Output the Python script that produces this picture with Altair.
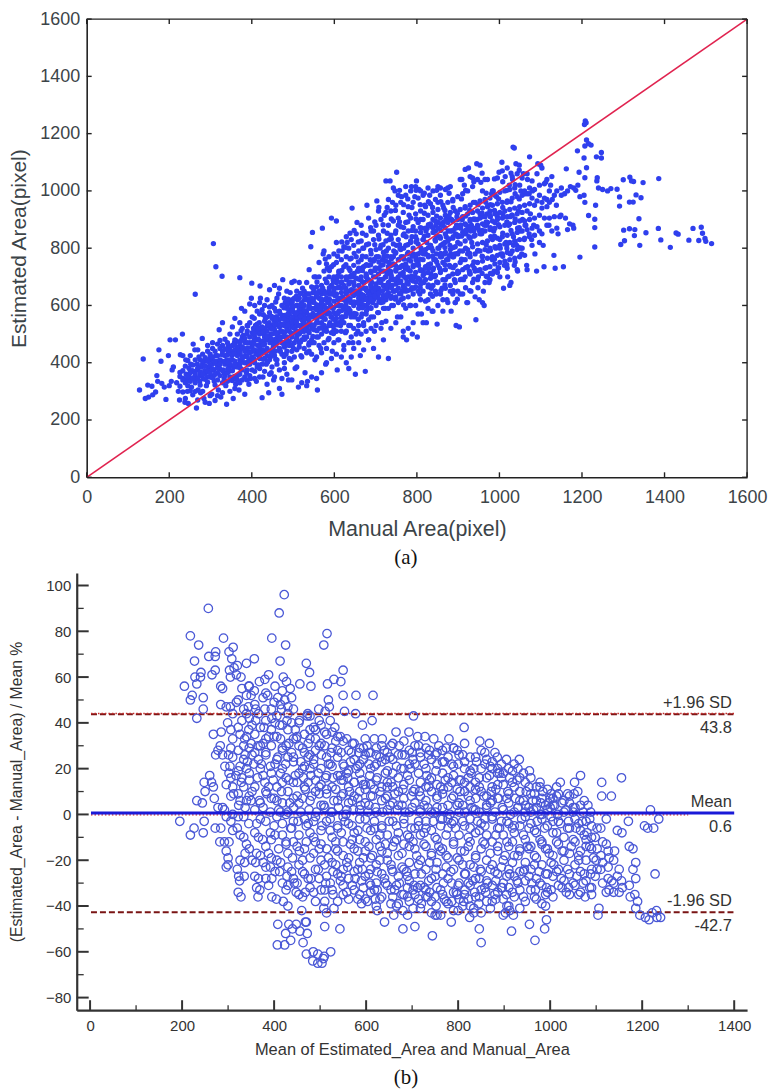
import altair as alt
import pandas as pd

a_outliers = [(1208,1244),(1210,1238),(1206,1232),(1211,1178),(1216,1165),(1207,1157),(1222,1160),(1033,1153),(1036,1150),(1073,1119),(1189,1140),(1205,1115),(1247,1134),(1235,1119),(1247,1115),(1162,1077),(1193,1065),(1211,1081),(1207,1046),(1237,1046),(1236,1035),(1300,1039),(1316,1048),(1325,1033),(1320,1035),(1348,1029),(1386,1043),(1291,979),(1291,947),(1315,961),(1324,961),(1331,986),(1343,976),(1338,903),(1301,863),(1315,868),(1328,865),(1327,844),(1355,854),(1385,869),(1391,829),(1294,813),(1303,826),(1340,810),(1414,803),(1428,853),(1433,849),(1459,828),(1469,869),(1489,873),(1492,852),(1483,827),(1498,834),(1500,824),(1514,816),(1195,769),(1231,804),(1231,872),(1231,901),(1216,914),(307,816),(313,735),(328,702),(263,639),(371,697),(400,678),(420,668),(1240,1010),(1250,1005),(1262,1000),(1270,1008),(1285,1006),(1233,950),(1205,985),(1195,980),(1207,960),(1180,1010),(1172,1015),(1185,1002),(1190,1020),(1150,985),(1178,880),(1180,870),(1165,865),(1160,905),(1149,915)]
a_low = [(128,305),(137,413),(142,275),(150,280),(148,322),(158,318),(160,288),(167,298),(172,335),(170,355),(175,445),(180,405),(182,328),(188,315),(192,272),(198,425),(200,320),(205,335),(207,375),(210,385),(202,480),(215,480),(218,330),(222,300),(225,270),(227,428),(232,500),(234,345),(238,262),(240,410),(241,360),(244,300),(246,258),(248,380),(250,345),(252,395),(254,315),(258,465),(259,370),(262,445),(264,345),(266,242),(268,395),(270,305),(272,420),(274,355),(276,295),(278,385),(280,485),(282,345),(284,275),(286,405),(288,365),(290,320),(293,440),(295,385),(297,258),(299,350),(301,410),(303,290),(305,470),(307,375),(309,335),(311,268),(313,425),(315,395),(317,365),(319,305),(321,515),(323,450),(325,280),(327,405),(329,540),(331,375),(333,345),(335,425),(337,320),(339,255),(341,395),(343,460),(345,370),(347,300),(349,440),(351,340),(353,410),(355,275),(357,385),(359,555),(361,325),(363,475),(365,355),(367,440),(369,305),(371,410),(373,380),(375,590),(377,340),(379,495),(381,450),(383,290),(385,425),(387,365),(389,530),(391,395),(393,325),(395,470),(397,345),(399,625),(401,440),(403,405),(405,500),(407,370),(409,530),(411,335),(413,580),(415,460),(417,425),(419,380),(421,625),(423,510),(425,278),(427,350),(429,470),(431,440),(433,555),(435,395),(437,325),(439,490),(441,295),(443,595),(445,420),(447,365),(449,530),(451,470),(453,340),(455,670),(457,440),(459,560),(461,395),(463,500),(465,640),(467,310),(469,440),(471,535),(473,290),(475,690),(477,470),(479,380),(481,610),(483,430),(485,515),(487,560),(489,340),(491,475),(493,645),(495,410)]
a_mid1 = [(497,525),(499,590),(501,450),(503,685),(505,380),(507,545),(509,500),(511,620),(513,315),(515,470),(517,570),(519,425),(521,530),(523,660),(525,600),(527,490),(529,365),(531,640),(533,555),(535,335),(537,510),(539,440),(541,590),(543,805),(545,470),(547,855),(549,620),(551,530),(553,410),(555,700),(557,565),(559,305),(561,490),(563,650),(565,600),(567,450),(569,540),(571,870),(573,780),(575,515),(577,620),(579,395),(581,570),(583,730),(585,480),(587,650),(589,540),(591,600),(593,905),(595,440),(597,690),(599,515),(601,635),(603,570),(605,895),(607,375),(609,480),(611,720),(613,600),(615,530),(617,660),(619,790),(621,560),(623,445),(625,620),(627,505),(629,690),(631,820),(633,580),(635,380),(637,650),(639,530),(641,610),(643,940),(645,470),(647,700),(649,560),(651,360),(653,640),(655,890),(657,510),(659,730),(661,600),(663,425),(665,660),(667,570),(669,800),(671,530),(673,620),(675,370),(677,700),(679,950),(681,590),(683,480),(685,650),(687,760),(689,560),(691,680),(693,610),(695,860),(697,510),(699,730),(701,640),(703,965),(705,575),(707,420),(709,690),(711,800),(713,620),(715,540),(717,760),(719,670),(721,915),(723,590),(725,1035),(727,720),(729,640),(731,415),(733,830),(735,1035),(737,690),(739,600),(741,960),(743,770),(745,650),(747,1000),(749,720),(751,1065),(753,560),(755,880),(757,680),(759,800),(761,620),(763,980),(765,740),(767,510),(769,850),(771,660),(773,1015),(775,480),(777,780),(779,700),(781,915),(783,600),(785,820),(787,1015),(789,500),(791,740),(793,660),(795,980),(797,860),(799,1035),(801,490),(803,780),(805,1005),(807,640),(809,900),(811,570),(813,720),(815,830)]
a_mid2 = [(817,680),(819,950),(821,780),(823,540),(825,870),(827,620),(829,730),(831,985),(833,810),(835,660),(837,580),(839,900),(841,760),(843,700),(845,860),(847,640),(849,535),(851,960),(853,800),(855,730),(857,1010),(859,880),(861,660),(863,580),(865,940),(867,780),(869,690),(871,840),(873,620),(875,1010),(877,900),(879,740),(881,650),(883,580),(885,860),(887,970),(889,770),(891,690),(893,610),(895,530),(897,910),(899,820),(901,715),(903,525),(905,640),(907,880),(909,1040),(911,760),(913,690),(915,1020),(917,940),(919,850),(921,610),(923,780),(925,1080),(927,720),(929,900),(931,650),(933,820),(935,1045),(937,960),(939,730),(941,870),(943,550),(945,1095),(947,790),(949,700),(951,620),(953,920),(955,1030),(957,850),(959,770),(961,650),(963,600),(965,1040),(967,960),(969,880),(971,700),(973,790),(975,680),(977,930),(979,840),(981,990),(983,760),(985,1000),(987,720),(989,890),(991,800),(993,980),(995,910),(997,730),(999,1065),(1001,830),(1003,780),(1006,1100),(1008,920),(1010,660),(1012,740),(1014,1050),(1016,820),(1018,960),(1020,700),(1022,880),(1024,1020),(1026,780),(1028,680),(1030,915),(1032,1040),(1034,840),(1036,740),(1038,990),(1040,1095),(1042,810),(1044,720),(1046,930),(1048,1090),(1050,860),(1052,1000),(1054,780),(1056,900),(1058,1060),(1060,830),(1062,990),(1064,880),(1066,740),(1068,1040),(1072,990),(1075,920),(1078,830),(1080,1000),(1083,880),(1086,780),(1090,720),(1093,1095),(1097,860),(1100,1090),(1103,960),(1106,810),(1108,735),(1112,1030),(1115,970),(1120,880),(1124,1020),(1128,970),(1132,775),(1135,730),(1138,950),(1142,850),(1146,910),(1150,1010),(1155,735),(1158,990),(1165,1000),(1170,885)]
a_core = [(240,340),(248,355),(256,372),(262,352),(268,375),(274,335),(280,392),(286,372),(292,350),(298,415),(304,395),(308,355),(316,405),(322,380),(328,428),(334,362),(340,410),(346,385),(352,425),(356,350),(362,440),(368,395),(374,455),(378,420),(384,470),(390,440),(394,410),(400,455),(406,480),(410,430),(416,505),(422,470),(426,445),(432,520),(436,480),(442,540),(446,500),(452,455),(456,530),(460,485),(466,550),(470,510),(474,565),(478,530),(484,475),(488,545),(492,585),(496,500),(500,560),(504,530),(508,600),(512,555),(516,505),(520,590),(524,545),(528,620),(532,580),(536,530),(540,610),(544,560),(548,645),(552,590),(556,630),(560,540),(564,575),(568,620),(572,660),(576,575),(580,520),(584,610),(588,640),(592,560),(596,590),(600,660),(604,540),(608,620),(612,580),(616,680),(620,630),(624,590),(628,660),(632,620),(636,700),(640,570),(644,640),(648,670),(652,610),(656,720),(660,650),(664,690),(668,620),(672,660),(676,740),(680,690),(684,630),(688,720),(692,660),(696,760),(700,700),(704,650),(708,730),(712,680),(716,620),(720,770),(724,700),(728,660),(732,750),(736,720),(740,670),(744,790),(748,740),(752,690),(756,760),(760,710),(764,650),(768,800),(772,730),(776,680),(780,760),(784,720),(788,840),(792,780),(796,700),(800,830),(804,740),(808,690),(812,870),(816,780),(820,730),(824,820),(828,770),(832,880),(836,800),(840,730),(844,830),(848,780),(852,890),(856,840),(860,770),(864,890),(868,820),(872,760),(876,860),(880,810),(884,900),(888,840),(892,780),(896,880),(900,840),(904,790),(910,900),(914,850),(920,880),(926,840),(932,880),(938,860),(946,900),(952,860),(958,910),(964,880),(970,920),(978,910),(986,860),(994,920),(1002,800),(1010,910),(1018,800),(1026,910),(1034,810),(1044,870),(1052,800),(1062,880),(1072,850),(344,450),(358,470),(372,430),(388,500),(404,520),(418,540),(430,500),(444,470),(458,580),(472,490),(486,600),(498,620),(510,575),(522,510),(534,640),(546,520),(558,600),(570,560),(582,680),(594,530),(606,690),(618,550),(630,580),(642,700),(654,650),(666,730),(678,600),(690,640),(702,770),(714,720),(726,790),(738,740),(750,810),(762,770),(774,840),(786,690),(798,760),(810,800),(822,860),(834,710),(846,880),(858,810),(870,900),(882,780),(894,850),(906,870),(918,800),(930,860),(942,900)]
# extra columns read from the dense band: (manual area, [estimated areas])
a_columns = [(226,[352,318,366]),(233,[372,340,298,425]),(239,[388,330,275]),(245,[352,408,320]),(251,[366,302,425,335]),(257,[345,392,288]),(263,[410,362,330,300]),(269,[345,382,445,270]),(275,[368,410,322]),(281,[405,360,300,430]),(287,[342,388,418,262]),(293,[372,405,332,460]),(299,[392,365,285,430]),(305,[348,420,378,450]),(311,[405,360,440,322]),(317,[382,425,340,465,285]),(323,[355,410,395,478]),(329,[372,440,330,460,295]),(335,[395,355,448,482,405]),(341,[428,365,470,335]),(347,[410,350,445,395,500]),(353,[372,460,430,338,525]),(359,[405,445,352,480,310]),(365,[425,385,500,455,340]),(371,[470,395,440,360,540,330]),(377,[415,455,375,520,490]),(383,[440,400,485,350,580]),(389,[470,420,510,375,340]),(395,[435,490,395,540,355,605]),(401,[470,505,420,375,560]),(407,[445,520,400,490,345,600]),(413,[480,430,535,385,510]),(419,[455,500,415,570,350,610]),(425,[525,475,435,395,585]),(431,[490,545,415,465,370,600]),(437,[510,450,560,425,620]),(443,[525,490,410,575,360,655]),(449,[500,555,445,470,385,600]),(455,[515,480,590,425,545,350]),(461,[535,470,560,505,410,625]),(467,[490,580,450,525,375,660]),(473,[555,510,470,600,430,345]),(479,[505,565,455,535,625,400]),(485,[545,590,490,440,525,650,360]),(491,[570,510,535,460,610,415]),(497,[555,600,490,525,440,680,340]),(503,[520,575,625,470,545,420]),(509,[560,490,600,530,445,650,385]),(515,[585,530,625,500,455,680]),(521,[550,610,575,480,520,420,330]),(527,[600,540,650,510,450,565]),(533,[575,620,525,490,680,435,320]),(539,[565,640,600,505,540,470,725]),(545,[590,530,625,480,665,430,350]),(551,[610,560,650,515,700,470]),(557,[585,635,540,665,490,420,345]),(563,[625,565,595,520,700,460,750]),(569,[640,580,610,500,670,435,365]),(575,[600,555,650,530,720,470,790]),(581,[625,590,680,510,450,745,400]),(587,[575,650,610,530,700,485,770]),(593,[640,595,560,670,505,735,415]),(599,[615,655,575,700,530,470,780]),(605,[640,600,680,555,510,750,430,820]),(611,[625,665,580,715,540,480,790]),(617,[645,600,700,560,510,760,420]),(623,[670,620,590,735,540,805,460]),(629,[640,610,700,570,770,510,400,840]),(635,[675,625,730,590,530,800,470]),(641,[655,705,610,765,560,490,830,420]),(647,[635,680,600,740,520,810,450]),(653,[695,650,610,770,570,500,850]),(659,[670,625,720,590,790,530,470]),(665,[640,700,610,760,560,825,500,880]),(671,[680,635,735,600,800,540,445]),(677,[660,710,625,770,570,845,510]),(683,[690,640,740,610,815,550,480,905]),(689,[665,715,630,780,590,860,520]),(695,[700,650,755,620,830,560,450]),(701,[675,730,640,795,600,880,530]),(707,[710,660,770,625,845,575,930]),(713,[690,740,650,810,610,900,520]),(719,[720,670,785,635,860,590,480]),(725,[700,755,660,825,620,925,545]),(731,[735,680,800,645,880,590,970]),(737,[710,770,665,845,625,930,520]),(743,[745,690,815,650,895,600,1010]),(749,[725,785,675,860,630,950,540]),(755,[760,700,830,660,905,610,985]),(761,[735,795,685,875,640,960,560]),(767,[770,715,845,670,925,625,490]),(773,[745,810,695,890,650,985,590]),(779,[785,725,860,675,945,630,520]),(785,[755,825,700,905,655,1000,600]),(791,[800,735,875,685,960,640,540]),(797,[770,840,715,920,665,1015,600]),(803,[815,750,890,695,975,650,570]),(809,[785,855,725,930,675,1000,620]),(815,[830,760,900,705,985,650,540]),(821,[795,870,735,945,690,615]),(827,[845,775,915,715,1010,665,590]),(833,[810,885,745,955,695,640]),(839,[855,790,925,725,1000,670,580]),(845,[825,895,760,970,705,650]),(851,[870,800,935,740,1015,680,600]),(857,[835,905,770,985,715,640]),(863,[880,815,950,750,690,620]),(869,[850,915,785,1005,725,660]),(875,[890,825,960,760,700,610]),(881,[860,925,795,1015,735,670]),(887,[895,835,965,770,710,640]),(893,[870,930,805,740,680,610]),(899,[900,845,980,780,720,650]),(905,[880,935,815,1040,750,690]),(911,[910,855,990,790,725,640]),(917,[885,945,825,760,700,1075]),(923,[920,865,1000,795,735,610]),(929,[895,950,835,770,710,1050]),(935,[925,870,1015,805,740,680]),(941,[900,960,845,780,720,630]),(947,[930,880,1040,815,750,690]),(953,[905,965,850,790,725,1090]),(959,[940,885,1000,820,755,610]),(965,[910,970,860,795,730,680]),(971,[945,890,1040,825,765,700]),(977,[915,975,865,800,735,690]),(983,[950,895,1000,830,770,710]),(989,[920,985,870,805,745]),(995,[955,900,1045,835,775,715]),(1001,[925,995,875,810,750,700]),(1007,[960,905,1070,840,780]),(1013,[930,1000,880,815,755]),(1019,[965,910,1080,845,785,730]),(1025,[935,1005,885,820,760,670]),(1031,[975,915,1050,850,790]),(1037,[940,1010,890,825,765]),(1043,[980,920,1060,855,795,725]),(1049,[945,1020,895,830,770]),(1055,[985,925,1045,860,800]),(1061,[950,895,1000,835,775]),(1067,[990,930,1060,865,725]),(1073,[955,1010,900,840]),(1079,[975,1035,870,810]),(1085,[950,905,1005,845]),(1091,[965,1060,875]),(1097,[985,915,1020,820]),(1103,[940,1080,850]),(1109,[975,905,1025]),(1115,[880,945,1040]),(1121,[960,1000,905]),(1127,[860,1050]),(1133,[910,985]),(1139,[1000,870])]
a_columns2 = [(342,[402,442,378]),(358,[432,392,462]),(374,[402,478,512]),(390,[452,402,528]),(406,[412,465,502,555]),(416,[442,522,392,482]),(428,[462,508,412,568]),(438,[532,442,492,402]),(448,[482,518,562,432]),(458,[502,462,552,412,612]),(468,[532,482,572,442]),(478,[492,552,592,462,422]),(488,[512,572,462,622,532]),(498,[542,502,582,462,612]),(508,[512,572,482,632,542]),(518,[562,602,512,472,642]),(528,[522,582,482,632,552]),(538,[592,552,622,512,462]),(548,[572,612,532,662,492]),(558,[552,602,642,512,682]),(568,[592,562,652,522,622]),(578,[642,592,552,692,512,762]),(588,[622,572,662,532,722]),(598,[642,592,682,552,742,502]),(608,[602,662,572,702,532,772]),(618,[622,682,582,722,542,822]),(628,[652,602,742,562,802]),(638,[682,622,722,582,852,762]),(648,[712,652,612,782,572,862]),(658,[642,692,612,752,552,822]),(668,[682,632,772,592,852,722]),(678,[702,652,742,622,812,582]),(688,[672,622,792,742,872,592]),(698,[722,662,812,632,762,892]),(708,[682,752,642,832,612,942]),(718,[742,692,812,652,882,612]),(728,[712,772,672,852,632,942]),(738,[762,702,832,662,902,632]),(748,[782,692,852,652,932,622]),(758,[732,812,682,892,642,1002]),(768,[762,702,872,662,952,602]),(778,[812,732,892,682,972,652]),(788,[772,862,702,942,662]),(798,[822,742,902,682,1002]),(808,[762,872,722,952,662]),(818,[842,792,922,712,992]),(828,[802,882,742,962,672]),(838,[872,772,942,702,632]),(848,[842,912,752,1002,682]),(858,[782,862,722,962,652]),(868,[872,802,932,742,672]),(878,[832,912,772,992,702]),(888,[862,802,942,732,652]),(898,[872,922,782,712,622]),(908,[842,972,762,692,902]),(918,[912,862,1002,732,662]),(928,[872,932,782,712,652]),(938,[902,842,1032,752,692]),(948,[872,952,792,722,662]),(958,[922,862,1062,772,712]),(968,[892,992,812,732,702]),(978,[872,952,792,712]),(988,[932,842,1042,762]),(998,[882,972,802,732]),(1008,[942,852,1032,772]),(1018,[892,1002,812,742]),(1028,[962,862,1062,782]),(1038,[902,1022,822,752]),(1048,[972,872,1072,802])]

b_top = [(257,90),(422,96),(411,88),(218,78),(395,77),(290,77),(515,79),(508,74),(425,74),(236,74),(311,73),(302,71),(273,71),(272,69),(258,69),(227,67),(413,67),(357,68),(470,66),(340,66),(308,68),(320,65),(313,64),(272,63),(303,63),(241,62),(265,61),(477,62),(550,63),(420,60),(240,60),(228,60),(318,61),(305,60),(328,60),(530,59),(545,58),(205,56),(232,57),(284,56),(350,52),(427,58),(380,59),(388,61),(368,58),(516,57),(480,56),(456,57),(435,55),(402,56),(345,56),(330,55),(288,55),(550,52),(578,52),(615,52),(518,50),(218,50),(222,52),(246,51),(246,46),(284,48),(408,51),(400,49),(386,52),(423,50),(438,51),(340,52),(357,54),(296,47),(305,47),(318,49),(344,47),(360,46),(380,46),(416,46),(430,47),(442,46),(497,46),(511,45),(553,45),(577,44),(232,42),(299,40),(472,43),(473,44),(520,47),(703,43),(613,41),(813,38),(592,39),(268,35),(285,36),(283,30),(278,28),(273,26),(288,26),(293,21),(304,21),(301,26),(302,18),(317,17),(329,14),(340,20),(337,26)]
b_upper = [(330,41),(345,37),(360,41),(378,38),(395,42),(412,39),(428,41),(446,37),(455,41),(478,37),(498,41),(532,38),(544,34),(558,33),(336,33),(350,31),(365,30),(382,27),(400,34),(418,28),(432,31),(448,33),(462,29),(490,33),(510,30),(524,27),(568,27),(584,27),(602,30),(618,33),(635,33),(665,36),(693,36),(712,34),(728,34),(747,33),(758,30),(780,33),(790,29),(847,32),(868,31),(880,27),(885,25),(905,24),(933,24),(955,19),(322,28),(342,23),(356,22),(372,22),(392,21),(408,25),(425,22),(442,25),(458,23),(474,25),(486,22),(503,26),(518,22),(538,25),(552,21),(566,23),(578,20),(594,24),(606,22),(622,26),(640,28),(652,25),(672,30),(684,26),(700,27),(718,25),(736,26),(754,22),(770,23),(800,22),(814,20),(826,25),(840,23),(858,22),(874,20),(894,22),(918,19),(928,15),(1022,14),(1053,14),(1066,17),(1112,14),(1155,16),(1060,10),(1112,8),(1133,8),(978,12),(948,10),(984,10),(1000,7),(1014,8),(1042,8),(1052,9),(1010,4),(1082,4),(912,16),(890,18),(868,17),(846,16),(828,18),(806,15),(790,17),(772,15),(752,19),(732,17),(714,18),(696,20),(676,20),(658,18),(642,18),(624,16),(608,17),(590,15),(574,14),(560,16),(544,17),(528,16),(512,16),(496,18),(480,17),(464,16),(446,17),(432,15),(414,18),(398,15),(380,14),(364,16),(346,15),(330,16)]
b_centre = [(260,17),(264,14),(248,14),(268,12),(250,10),(232,6),(244,5),(270,7),(278,3),(288,3),(296,13),(312,9),(323,4),(337,3),(350,6),(368,6),(384,9),(400,7),(416,10),(434,5),(450,8),(468,11),(482,8),(498,9),(514,11),(530,6),(546,8),(564,10),(582,7),(598,11),(614,8),(630,10),(646,12),(662,9),(680,11),(698,8),(716,10),(736,12),(754,8),(768,11),(786,7),(804,10),(822,8),(838,11),(856,8),(872,10),(888,7),(908,10),(924,7),(942,6),(962,6),(980,5),(996,5),(292,2),(310,0),(334,-1),(358,2),(376,3),(392,1),(410,2),(426,0),(442,3),(458,1),(476,2),(492,1),(508,4),(524,1),(540,3),(556,0),(572,2),(588,4),(604,1),(620,3),(636,1),(652,4),(668,2),(684,1),(700,3),(718,1),(734,3),(750,1),(766,3),(782,0),(798,4),(814,1),(830,3),(846,1),(862,3),(880,1),(896,3),(914,0),(930,3),(946,1),(964,2),(982,0),(1000,3),(1016,0),(1034,2),(1050,3),(1072,1),(1088,1),(1218,2),(195,-3),(218,-9),(226,-6),(246,-8),(248,-3),(272,-6),(284,-6),(296,-1),(320,-6),(345,-4),(362,-4),(382,-3),(400,-5),(418,-4),(436,-6),(452,-3),(470,-5),(486,-3),(504,-5),(522,-2),(538,-6),(554,-3),(570,-5),(586,-2),(602,-6),(618,-3),(634,-6),(650,-3),(666,-5),(682,-2),(698,-6),(714,-3),(730,-6),(746,-3),(762,-5),(778,-2),(794,-6),(810,-3),(826,-6),(842,-3),(858,-5),(874,-2),(890,-6),(906,-3),(922,-5),(938,-2),(954,-6),(972,-3),(988,-6),(1006,-3),(1022,-4),(1040,-3),(1056,-6),(1070,-3),(1090,-5),(1080,-8),(1122,-2),(1170,-3),(1205,-5),(1212,-6),(1225,-6),(1236,-2),(1146,-7),(1156,-8)]
b_lower = [(282,-12),(292,-12),(302,-12),(296,-16),(300,-19),(300,-22),(296,-23),(320,-24),(336,-21),(335,-27),(323,-27),(325,-29),(322,-34),(328,-36),(362,-32),(369,-33),(365,-36),(395,-28),(382,-23),(392,-23),(360,-21),(337,-17),(362,-17),(375,-11),(392,-8),(410,-15),(426,-13),(440,-19),(455,-16),(470,-12),(486,-17),(502,-13),(518,-19),(534,-15),(550,-18),(566,-13),(582,-16),(598,-12),(614,-18),(630,-14),(646,-17),(662,-12),(678,-17),(694,-14),(710,-18),(726,-13),(742,-17),(758,-14),(774,-18),(790,-12),(806,-16),(822,-14),(838,-18),(854,-12),(870,-17),(886,-14),(902,-18),(918,-12),(934,-16),(950,-14),(966,-18),(982,-13),(998,-17),(1014,-12),(1030,-16),(1046,-14),(1062,-18),(1078,-14),(1094,-19),(1110,-18),(1128,-19),(1140,-16),(1172,-14),(1180,-15),(412,-25),(428,-27),(444,-30),(462,-25),(480,-28),(496,-24),(512,-30),(528,-25),(544,-29),(560,-23),(576,-28),(592,-24),(608,-30),(624,-25),(640,-28),(656,-24),(672,-30),(688,-25),(704,-31),(720,-26),(736,-29),(752,-24),(768,-30),(784,-25),(800,-31),(816,-26),(832,-29),(848,-24),(864,-30),(880,-25),(896,-32),(912,-26),(928,-29),(944,-24),(960,-30),(976,-25),(992,-32),(1008,-22),(1024,-28),(1040,-32),(1058,-27),(1072,-30),(1088,-26),(1100,-20),(1126,-28),(1134,-29),(1146,-27),(1155,-29),(1172,-31),(1186,-21),(1180,-24),(1186,-28),(1228,-26),(1128,-33),(1138,-34),(1157,-32),(1066,-34),(1076,-36),(1090,-35),(1035,-34),(990,-35),(968,-33),(905,-35),(880,-35),(860,-34),(836,-34),(815,-33),(796,-34),(770,-37),(750,-36),(730,-36),(712,-32),(690,-32),(662,-33),(624,-33),(610,-31),(590,-29),(550,-35),(528,-35),(510,-38),(468,-34),(448,-34),(430,-31),(395,-36),(405,-37),(420,-38),(430,-40),(508,-41),(530,-41),(590,-39),(603,-38),(620,-37),(654,-39),(690,-36),(702,-41),(720,-39),(734,-36),(742,-43),(752,-40),(762,-44),(786,-38),(800,-42),(812,-38),(825,-45),(834,-41),(845,-39),(903,-43),(912,-42),(920,-44),(624,-42),(660,-44),(680,-42),(1106,-41),(1104,-44),(1174,-36),(1184,-35),(1186,-41),(1195,-44),(1207,-45),(1215,-46),(1222,-43),(1231,-42),(1240,-45),(1232,-45),(1190,-38)]
b_bottom = [(460,-42),(408,-48),(432,-48),(448,-48),(468,-47),(470,-47),(425,-52),(440,-50),(456,-51),(472,-52),(510,-49),(543,-50),(640,-47),(680,-50),(706,-49),(744,-53),(785,-47),(846,-50),(850,-56),(916,-51),(955,-48),(988,-50),(992,-46),(967,-55),(407,-57),(423,-57),(436,-55),(463,-56),(470,-61),(485,-60),(495,-61),(509,-62),(523,-60),(484,-64),(504,-65),(507,-63),(495,-65)]
# extra columns read from the dense cloud: (mean area, [percent differences])
b_columns = [(310,[33,-7,12,44,25]),(322,[38,-1,19,50,9]),(334,[12,46,30,-10,24]),(346,[29,8,42,-15,18,56]),(358,[35,12,-8,27,48,-27]),(370,[20,-2,38,5,-18,30]),(382,[41,26,10,-14,33,-28,53]),(394,[7,30,18,-11,37,-19,46]),(406,[34,12,-1,24,-20,43,6]),(418,[39,20,5,-9,29,-30,14,54]),(430,[25,10,-17,37,1,-23,44]),(442,[33,14,-3,23,-12,7,-28]),(454,[18,30,5,-9,40,-22,-35]),(466,[27,12,-2,35,-15,-26,21]),(478,[33,20,6,-8,-19,26,-32,43]),(490,[15,28,-1,10,-12,37,-24,-38]),(502,[31,4,20,-7,-20,13,-33,39]),(514,[25,9,35,-3,-15,-27,17,-43]),(526,[12,29,1,-10,21,-21,-33,36]),(538,[28,17,-5,6,-16,-26,34,-38]),(550,[22,32,9,-1,-12,15,-31,-24]),(562,[28,12,-4,19,-19,5,-28,-37]),(574,[24,8,31,-8,14,-15,-25,-33]),(586,[18,2,29,-11,10,-21,-35,22]),(598,[26,13,-2,33,5,-16,-27,-37]),(610,[20,8,27,-7,-19,13,-24,-34]),(622,[29,15,1,-11,22,-22,-30,-40]),(634,[23,6,-5,12,-16,30,-26,-36]),(646,[19,27,8,-9,-20,2,-31,14]),(658,[24,12,-3,31,-14,-25,-36,5]),(670,[16,26,4,-8,-18,-27,10,-39]),(682,[32,20,7,-4,-13,-24,13,-35]),(694,[15,28,1,-10,-21,-29,22,-38]),(706,[22,11,-6,30,-15,5,-26,-35]),(718,[27,14,2,-9,-20,-31,8,-41]),(730,[20,6,-3,29,-14,-24,12,-33]),(742,[24,10,-7,16,-18,-28,1,-38]),(754,[27,13,3,-11,-21,-32,7,-44]),(766,[18,28,-2,9,-15,-26,-35,23]),(778,[25,12,-6,4,-19,-28,16,-39]),(790,[21,8,-3,29,-13,-24,-34,-42]),(802,[15,26,1,-9,-20,-30,5,-37]),(814,[23,10,-5,31,-16,-26,-35,14]),(826,[19,6,-2,-12,-22,-31,12,-40]),(838,[25,14,2,-8,-19,-28,-36,7]),(850,[20,10,-4,28,-15,-25,-33,-43]),(862,[16,4,-9,24,-20,-29,-38,8]),(874,[23,12,-1,-12,-22,-31,6,-38]),(886,[18,7,-6,-16,-26,-34,13,20]),(898,[13,2,-9,-20,-30,-37,18,-44]),(910,[20,9,-4,-14,-24,-32,5,-40]),(922,[12,1,-8,-18,-27,-36,22]),(934,[16,6,-5,-15,-25,-33,10,-41]),(946,[14,-1,-11,-21,-29,4,-38]),(958,[9,-4,-14,-24,-33,16,1]),(970,[12,3,-8,-19,-28,-37,6]),(982,[7,-2,-12,-22,-31,-39]),(994,[11,-5,-15,-26,-34,2]),(1006,[4,-8,-18,-27,-36,7]),(1018,[9,-3,-13,-24,-31]),(1030,[1,-10,-20,-29,6]),(1042,[5,-6,-17,-26,-35]),(1054,[-2,-12,-22,-31,3]),(1066,[-7,-16,-25,4]),(1078,[-3,-20,-29,-11]),(1090,[-10,-24,-15,-32]),(1102,[-15,-24,-6]),(1114,[-12,-21,-30]),(1126,[-16,-23]),(1138,[-20,-30]),(1150,[-24,-34])]
b_columns2 = [(306,[29,-3,8,37,16]),(326,[21,35,-9,6,-20]),(340,[6,34,-13,44]),(352,[26,-20,39,10]),(366,[24,-10,44,-28]),(376,[17,-21,31,51]),(388,[12,34,-17,-31]),(402,[22,-9,40,-25]),(414,[33,1,-21,48]),(426,[16,-12,30,-33]),(438,[27,-6,-25,40]),(450,[14,-14,34,-30]),(462,[20,-20,7,-36]),(474,[31,-4,-28,14]),(486,[24,-10,-34,38]),(498,[12,-15,30,-28]),(510,[36,3,-22,-33]),(522,[22,-7,-30,41]),(534,[11,-12,32,-22]),(546,[27,-8,-27,15]),(558,[18,2,-21,-34]),(570,[31,-11,-31,6]),(582,[21,-7,-24,-37]),(594,[13,-19,29,-32]),(606,[27,4,-14,-26]),(618,[21,-6,-33,11]),(630,[25,-9,-20,-37]),(642,[7,-13,24,-30]),(654,[30,14,-22,-33]),(666,[21,-11,-31,-40]),(678,[26,4,-23,-35]),(690,[17,-9,-27,-44]),(702,[24,-12,-33,10]),(714,[30,-5,-22,-37]),(726,[22,-8,-32,4]),(738,[15,-21,-34,28]),(750,[26,-10,-27,-44]),(762,[12,-16,-33,-2]),(774,[29,-9,-23,-38]),(786,[22,-4,-30,14]),(798,[11,-19,-35,28]),(810,[26,4,-22,-40]),(822,[16,-10,-30,-37]),(834,[20,2,-23,-43]),(846,[12,-7,-28,-36]),(858,[27,-13,-32,-2]),(870,[21,5,-24,-41]),(882,[11,-9,-29,-37]),(894,[16,-3,-23,-32]),(906,[7,-12,-27,-40]),(918,[14,-6,-21,-34]),(930,[20,3,-18,-30]),(942,[18,-9,-25,-36]),(954,[3,-15,-27,12]),(966,[9,-7,-22,-36]),(978,[14,-11,-30,0]),(990,[4,-15,-26,-40]),(1002,[-1,-21,-33,9]),(1014,[12,-8,-25]),(1026,[5,-16,-32]),(1038,[-6,-24,9]),(1050,[-11,-30,1]),(1062,[-4,-20,-35]),(1074,[-9,-26,6]),(1086,[-14,-32,-2]),(1098,[-10,-27]),(1110,[-6,-24]),(1122,[-13,-34])]

pts_a = a_outliers + a_low + a_mid1 + a_mid2 + a_core + [(x, y) for x, ys in a_columns + a_columns2 for y in ys]
pts_b = b_top + b_upper + b_centre + b_lower + b_bottom + [(x, y) for x, ys in b_columns + b_columns2 for y in ys]

a_ticks = [0, 200, 400, 600, 800, 1000, 1200, 1400, 1600]
b_x_major = [0, 200, 400, 600, 800, 1000, 1200, 1400]
b_x_minor = [100, 300, 500, 700, 900, 1100, 1300]
b_y_major = [-80, -60, -40, -20, 0, 20, 40, 60, 80, 100]
b_y_minor = [-70, -50, -30, -10, 10, 30, 50, 70, 90]
limit_above = ["+1.96 SD", "Mean", "-1.96 SD"]
limit_below = ["43.8", "0.6", "-42.7"]
limit_y = [43.8, 0.6, -42.7]
diag = [0, 1600]

AW, AH = 673, 460
BW, BH = 673, 439
TXT = "#3c4448"
LAB = "Liberation Sans"

xa = alt.X("x:Q", scale=alt.Scale(domain=[0, 1600], range=[10, AW], nice=False),
           axis=alt.Axis(values=a_ticks, format="d", title="Manual Area(pixel)", grid=False, ticks=False,
                         domainColor="#222222", domainWidth=1.6, labelFontSize=18, labelColor=TXT,
                         labelFont=LAB, titleFont=LAB, titleFontSize=21.5, titleColor=TXT, labelFlush=False,
                         titleFontWeight="normal", labelPadding=11, titlePadding=12))
ya = alt.Y("y:Q", scale=alt.Scale(domain=[0, 1600], nice=False),
           axis=alt.Axis(values=a_ticks, format="d", title="Estimated Area(pixel)", grid=False, ticks=False, offset=-10,
                         domainColor="#222222", domainWidth=1.6, labelFontSize=18, labelColor=TXT,
                         labelFont=LAB, titleFont=LAB, titleFontSize=21, titleColor=TXT, labelFlush=False,
                         titleFontWeight="normal", labelPadding=7, titlePadding=10))

df_a = pd.DataFrame(pts_a, columns=["x", "y"])
ticks_a = pd.DataFrame({"x": a_ticks, "y": a_ticks})
RULE = dict(color="#222222", strokeWidth=1.4)

base_a = alt.Chart(df_a).mark_circle(size=29, color="#2f3fee", opacity=1).encode(x=xa, y=ya)
diag_a = alt.Chart(pd.DataFrame({"x": diag, "y": diag})).mark_line(color="#e0234f", strokeWidth=1.6).encode(x=xa, y=ya)
bottom_t = alt.Chart(ticks_a).mark_rule(**RULE).encode(x=xa, y=alt.value(AH), y2=alt.value(AH - 5))
top_t = alt.Chart(ticks_a).mark_rule(**RULE).encode(x=xa, y=alt.value(0), y2=alt.value(5))
left_t = alt.Chart(ticks_a).mark_rule(**RULE).encode(y=ya, x=alt.value(10), x2=alt.value(15))
right_t = alt.Chart(ticks_a).mark_rule(**RULE).encode(y=ya, x=alt.value(AW), x2=alt.value(AW - 5))
top_line = alt.Chart(pd.DataFrame({"y": [1600]})).mark_rule(**RULE).encode(y=ya, x=alt.value(10), x2=alt.value(AW))
right_line = alt.Chart(pd.DataFrame({"x": [1600]})).mark_rule(**RULE).encode(x=xa, y=alt.value(0), y2=alt.value(AH))

panel_a = alt.layer(base_a, diag_a, bottom_t, top_t, left_t, right_t, top_line, right_line).properties(
    width=AW, height=AH,
    title=alt.TitleParams("(a)", orient="bottom", font="Liberation Serif", fontSize=21, fontWeight="normal",
                          color="#111111", dx=-6, offset=8))

B_XD = [-29, 1428]
B_YD = [-85.5, 105.5]
xb = alt.X("x:Q", scale=alt.Scale(domain=B_XD, nice=False),
           axis=alt.Axis(values=b_x_major, format="d", title="Mean of Estimated_Area and Manual_Area", grid=False, ticks=False,
                         domainColor="#333333", domainWidth=2.2, labelFontSize=15, labelColor="#333333", labelFlush=False,
                         labelFont=LAB, titleFont=LAB, titleFontSize=16.5, titleColor="#333333",
                         titleFontWeight="normal", labelPadding=8, titlePadding=8))
yb = alt.Y("y:Q", scale=alt.Scale(domain=B_YD, nice=False),
           axis=alt.Axis(values=b_y_major, format="d", title="(Estimated_Area - Manual_Area) / Mean %", grid=False, ticks=False,
                         domainColor="#333333", domainWidth=2.2, labelFontSize=15, labelColor="#333333", labelFlush=False,
                         labelFont=LAB, titleFont=LAB, titleFontSize=15.8, titleColor="#333333",
                         titleFontWeight="normal", labelPadding=6, titlePadding=21))

df_b = pd.DataFrame(pts_b, columns=["x", "y"])
base_b = alt.Chart(df_b).mark_point(size=72, filled=False, color="#4a58d6", strokeWidth=1.3, opacity=1).encode(x=xb, y=yb)

def tick_x(values, length, w):
    return alt.Chart(pd.DataFrame({"x": values})).mark_rule(color="#333333", strokeWidth=w).encode(
        x=xb, y=alt.value(BH), y2=alt.value(BH - length))

def tick_y(values, length, w):
    return alt.Chart(pd.DataFrame({"y": values})).mark_rule(color="#333333", strokeWidth=w).encode(
        y=yb, x=alt.value(0), x2=alt.value(length))

def hline(level, x_end, **style):
    d = pd.DataFrame({"x": [2, x_end], "y": [level, level]})
    return alt.Chart(d).mark_line(**style).encode(x=xb, y=yb)

upper_dash = hline(limit_y[0], 1400, color="#7a1414", strokeWidth=2, strokeDash=[6, 3])
upper_dots = hline(limit_y[0] + 0.3, 1400, color="#c62828", strokeWidth=1.4, strokeDash=[1.5, 2])
lower_dash = hline(limit_y[2], 1400, color="#7a1414", strokeWidth=2, strokeDash=[6, 3])
mean_dots = hline(limit_y[1] - 0.8, 1300, color="#d0201f", strokeWidth=1.4, strokeDash=[1.5, 2])
mean_line = hline(limit_y[1], 1400, color="#1a1ad8", strokeWidth=3)

d_lab = pd.DataFrame({"above": limit_above, "below": limit_below, "y": limit_y, "x": [1395] * 3})
TXT_B = dict(align="right", baseline="middle", font=LAB, fontSize=16.5, color="#333333")
text_above = alt.Chart(d_lab).mark_text(dy=-11, **TXT_B).encode(x=xb, y=yb, text="above:N")
text_below = alt.Chart(d_lab).mark_text(dy=14, **TXT_B).encode(x=xb, y=yb, text="below:N")

panel_b = alt.layer(mean_dots, upper_dash, upper_dots, lower_dash, base_b, mean_line,
                    tick_x(b_x_major, 10, 2), tick_x(b_x_minor, 5, 1.3),
                    tick_y(b_y_major, 12, 2), tick_y(b_y_minor, 7, 1.3), text_above, text_below).properties(
    width=BW, height=BH,
    title=alt.TitleParams("(b)", orient="bottom", font="Liberation Serif", fontSize=21, fontWeight="normal",
                          color="#111111", dx=-6, offset=10))

chart = alt.vconcat(panel_a, panel_b, spacing=4).configure_view(stroke=None).properties(
    padding={"left": 0, "top": 0, "right": 0, "bottom": 0})
chart.save("out.html", embed_options={"renderer": "svg", "actions": False})
